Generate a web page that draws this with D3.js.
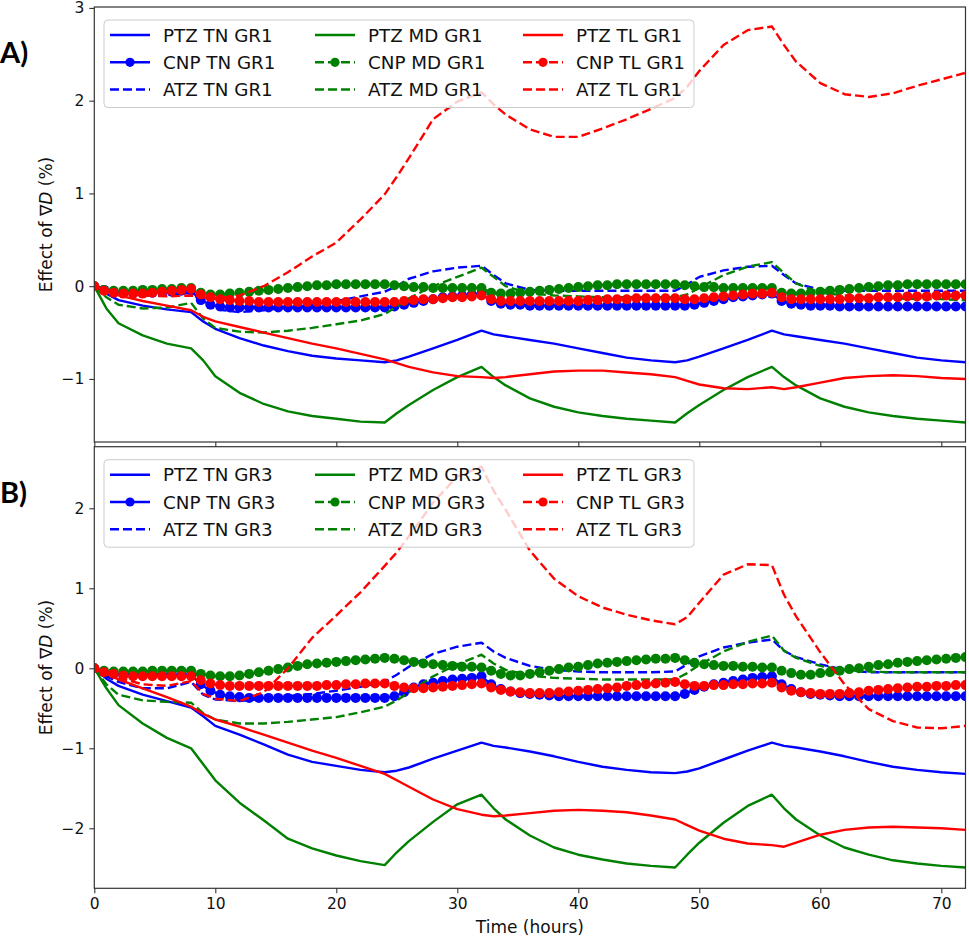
<!DOCTYPE html>
<html><head><meta charset="utf-8">
<script src="https://cdn.jsdelivr.net/npm/d3@7"></script>
<style>body{margin:0;background:#fff}svg{display:block}</style>
</head><body>
<svg id="chart" width="969" height="937"></svg>
<script>
// ---------- DATA ----------
const lineHours = [0,1,2,4,6,8, 9,10,12,14,16,18,20,22,24, 25,26,28,30,32, 33,34,36,38,40,42,44,46,48, 49,50,52,54,56, 57,58,60,62,64,66,68,70,72];
const markerHours = [0,0.8,1.6,2.4,3.2,4,4.8,5.6,6.4,7.2, 8,8.8,9.6,10.4,11.2,12,12.8,13.6,14.4,15.2, 16,16.8,17.6,18.4,19.2,20,20.8,21.6,22.4,23.2, 24,24.8,25.6,26.4,27.2,28,28.8,29.6,30.4,31.2, 32,32.8,33.6,34.4,35.2,36,36.8,37.6,38.4,39.2, 40,40.8,41.6,42.4,43.2,44,44.8,45.6,46.4,47.2, 48,48.8,49.6,50.4,51.2,52,52.8,53.6,54.4,55.2, 56,56.8,57.6,58.4,59.2,60,60.8,61.6,62.4,63.2, 64,64.8,65.6,66.4,67.2,68,68.8,69.6,70.4,71.2, 72];
const xTicks = [0,10,20,30,40,50,60,70];
const yTicksA = [-1,0,1,2,3];
const yTicksB = [-2,-1,0,1,2];

// Panel A (GR1)
const ptzTnGr1 = [0,-0.08,-0.15,-0.21,-0.25,-0.28, -0.38,-0.46,-0.56,-0.64,-0.7,-0.75,-0.78,-0.8,-0.82, -0.8,-0.76,-0.67,-0.58,-0.48, -0.52,-0.54,-0.58,-0.62,-0.67,-0.72,-0.77,-0.8,-0.82, -0.8,-0.76,-0.67,-0.58,-0.48, -0.52,-0.54,-0.58,-0.62,-0.67,-0.72,-0.77,-0.8,-0.82];
const ptzMdGr1 = [0,-0.24,-0.4,-0.53,-0.62,-0.67, -0.8,-0.97,-1.15,-1.27,-1.35,-1.4,-1.43,-1.46,-1.47, -1.37,-1.28,-1.12,-0.98,-0.87, -0.98,-1.07,-1.21,-1.3,-1.36,-1.4,-1.43,-1.45,-1.47, -1.37,-1.28,-1.12,-0.98,-0.87, -0.98,-1.07,-1.21,-1.3,-1.36,-1.4,-1.43,-1.45,-1.47];
const ptzTlGr1 = [0,-0.06,-0.1,-0.16,-0.21,-0.26, -0.33,-0.38,-0.44,-0.5,-0.56,-0.62,-0.67,-0.73,-0.79, -0.83,-0.87,-0.93,-0.97,-0.98, -0.99,-0.98,-0.95,-0.92,-0.91,-0.91,-0.93,-0.95,-0.98, -1.02,-1.06,-1.1,-1.11,-1.09, -1.11,-1.09,-1.04,-0.99,-0.97,-0.96,-0.97,-0.99,-1.0];
const atzTnGr1 = [0,-0.05,-0.08,-0.1,-0.1,-0.07, -0.18,-0.25,-0.28,-0.26,-0.23,-0.2,-0.16,-0.11,-0.06, 0.0,0.08,0.16,0.2,0.22, 0.12,0.03,-0.04,-0.05,-0.05,-0.05,-0.05,-0.05,-0.05, 0.02,0.1,0.17,0.21,0.22, 0.12,0.03,-0.04,-0.05,-0.05,-0.05,-0.05,-0.05,-0.05];
const atzMdGr1 = [0,-0.12,-0.2,-0.24,-0.23,-0.18, -0.35,-0.45,-0.49,-0.5,-0.48,-0.45,-0.41,-0.37,-0.3, -0.22,-0.13,0.0,0.1,0.2, 0.1,0.0,-0.08,-0.1,-0.11,-0.12,-0.12,-0.12,-0.12, -0.09,-0.02,0.12,0.21,0.26, 0.14,0.03,-0.07,-0.1,-0.12,-0.13,-0.14,-0.14,-0.15];
const atzTlGr1 = [0,-0.04,-0.07,-0.1,-0.11,-0.1, -0.12,-0.13,-0.1,0.0,0.15,0.32,0.47,0.72,0.99, 1.18,1.38,1.8,1.99,2.09, 1.96,1.85,1.69,1.61,1.61,1.7,1.8,1.91,2.03, 2.15,2.32,2.6,2.76,2.8, 2.6,2.42,2.19,2.07,2.04,2.08,2.16,2.23,2.3];
const cnpTnGr1 = [0,-0.04,-0.06,-0.07,-0.07,-0.07,-0.07,-0.06,-0.06,-0.05,
 -0.05,-0.15,-0.2,-0.22,-0.23,-0.23,-0.23,-0.23,-0.23,-0.23,
 -0.23,-0.23,-0.23,-0.23,-0.23,-0.23,-0.23,-0.23,-0.23,-0.23,
 -0.23,-0.22,-0.2,-0.18,-0.16,-0.14,-0.12,-0.11,-0.1,-0.09,
 -0.08,-0.16,-0.19,-0.2,-0.2,-0.21,-0.21,-0.21,-0.21,-0.21,
 -0.21,-0.21,-0.21,-0.21,-0.21,-0.21,-0.21,-0.21,-0.21,-0.21,
 -0.21,-0.21,-0.2,-0.18,-0.16,-0.14,-0.12,-0.11,-0.1,-0.09,
 -0.08,-0.16,-0.19,-0.2,-0.21,-0.21,-0.21,-0.22,-0.22,-0.22,
 -0.22,-0.22,-0.22,-0.22,-0.22,-0.22,-0.22,-0.22,-0.22,-0.22,
 -0.22];
const cnpMdGr1 = [0,-0.04,-0.05,-0.05,-0.05,-0.04,-0.04,-0.03,-0.03,-0.02,
 -0.02,-0.07,-0.09,-0.09,-0.08,-0.07,-0.06,-0.05,-0.04,-0.03,
 -0.02,-0.01,0,0.01,0.01,0.02,0.02,0.02,0.02,0.02,
 0.02,0.01,0,-0.01,-0.01,-0.02,-0.02,-0.02,-0.02,-0.02,
 -0.02,-0.07,-0.08,-0.08,-0.07,-0.06,-0.05,-0.04,-0.03,-0.02,
 -0.01,0,0.01,0.01,0.02,0.02,0.02,0.02,0.02,0.02,
 0.02,0.01,0,-0.01,-0.01,-0.02,-0.02,-0.02,-0.02,-0.02,
 -0.02,-0.07,-0.08,-0.08,-0.07,-0.06,-0.05,-0.04,-0.03,-0.02,
 -0.01,0,0.01,0.01,0.02,0.02,0.02,0.02,0.02,0.02,
 0.02];
const cnpTlGr1 = [0,-0.05,-0.07,-0.08,-0.08,-0.08,-0.07,-0.06,-0.05,-0.04,
 -0.03,-0.09,-0.12,-0.14,-0.15,-0.16,-0.16,-0.17,-0.17,-0.17,
 -0.17,-0.17,-0.17,-0.17,-0.17,-0.17,-0.17,-0.17,-0.17,-0.17,
 -0.17,-0.17,-0.16,-0.15,-0.14,-0.14,-0.13,-0.12,-0.12,-0.11,
 -0.1,-0.14,-0.16,-0.16,-0.16,-0.16,-0.16,-0.16,-0.16,-0.16,
 -0.16,-0.15,-0.15,-0.14,-0.14,-0.14,-0.13,-0.13,-0.13,-0.13,
 -0.13,-0.14,-0.14,-0.13,-0.12,-0.11,-0.1,-0.09,-0.08,-0.08,
 -0.07,-0.12,-0.14,-0.14,-0.14,-0.14,-0.14,-0.14,-0.13,-0.13,
 -0.13,-0.12,-0.12,-0.12,-0.11,-0.11,-0.11,-0.1,-0.1,-0.1,
 -0.1];

// Panel B (GR3)
const ptzTnGr3 = [0,-0.13,-0.22,-0.33,-0.41,-0.49, -0.6,-0.72,-0.83,-0.95,-1.08,-1.17,-1.22,-1.27,-1.3, -1.28,-1.24,-1.13,-1.03,-0.93, -0.97,-0.99,-1.04,-1.1,-1.17,-1.23,-1.27,-1.3,-1.31, -1.29,-1.25,-1.14,-1.03,-0.93, -0.97,-0.99,-1.04,-1.1,-1.17,-1.23,-1.27,-1.3,-1.32];
const ptzMdGr3 = [0,-0.25,-0.46,-0.69,-0.87,-1.0, -1.2,-1.4,-1.68,-1.9,-2.13,-2.25,-2.34,-2.41,-2.46, -2.3,-2.16,-1.92,-1.7,-1.58, -1.75,-1.89,-2.09,-2.24,-2.33,-2.39,-2.44,-2.47,-2.49, -2.33,-2.18,-1.93,-1.72,-1.58, -1.75,-1.89,-2.09,-2.24,-2.33,-2.4,-2.44,-2.47,-2.49];
const ptzTlGr3 = [0,-0.07,-0.14,-0.25,-0.36,-0.48, -0.57,-0.64,-0.73,-0.83,-0.93,-1.03,-1.12,-1.22,-1.32, -1.4,-1.48,-1.64,-1.76,-1.83, -1.85,-1.84,-1.81,-1.78,-1.77,-1.78,-1.8,-1.84,-1.89, -1.96,-2.03,-2.13,-2.19,-2.21, -2.23,-2.18,-2.08,-2.02,-1.99,-1.98,-1.99,-2.0,-2.02];
const atzTnGr3 = [0,-0.1,-0.17,-0.25,-0.25,-0.17, -0.33,-0.39,-0.41,-0.38,-0.35,-0.32,-0.28,-0.23,-0.17, -0.08,0.02,0.18,0.27,0.32, 0.21,0.13,0.03,-0.02,-0.04,-0.05,-0.05,-0.05,-0.04, 0.05,0.15,0.26,0.32,0.36, 0.22,0.14,0.05,-0.02,-0.05,-0.05,-0.05,-0.05,-0.05];
const atzMdGr3 = [0,-0.2,-0.33,-0.4,-0.42,-0.43, -0.56,-0.64,-0.69,-0.69,-0.67,-0.64,-0.61,-0.55,-0.48, -0.4,-0.3,-0.1,0.05,0.17, 0.06,-0.02,-0.09,-0.12,-0.13,-0.14,-0.14,-0.14,-0.14, -0.06,0.04,0.21,0.33,0.41, 0.22,0.13,0.03,-0.02,-0.04,-0.05,-0.05,-0.05,-0.05];
const atzTlGr3 = [0,-0.07,-0.12,-0.2,-0.22,-0.16, -0.32,-0.38,-0.41,-0.3,0.0,0.38,0.66,0.95,1.28, 1.45,1.65,2.07,2.4,2.52, 2.22,1.98,1.47,1.12,0.9,0.76,0.67,0.6,0.55, 0.64,0.82,1.17,1.3,1.29, 0.92,0.65,0.2,-0.2,-0.51,-0.66,-0.74,-0.75,-0.72];
const cnpTnGr3 = [0,-0.05,-0.07,-0.08,-0.08,-0.08,-0.08,-0.08,-0.08,-0.08,
 -0.08,-0.2,-0.28,-0.33,-0.35,-0.36,-0.37,-0.37,-0.37,-0.37,
 -0.37,-0.37,-0.37,-0.37,-0.37,-0.37,-0.37,-0.37,-0.37,-0.37,
 -0.37,-0.35,-0.3,-0.24,-0.2,-0.18,-0.16,-0.14,-0.13,-0.12,
 -0.1,-0.2,-0.26,-0.29,-0.31,-0.32,-0.33,-0.34,-0.35,-0.35,
 -0.35,-0.35,-0.35,-0.35,-0.35,-0.35,-0.35,-0.35,-0.35,-0.35,
 -0.35,-0.32,-0.27,-0.23,-0.2,-0.18,-0.16,-0.14,-0.12,-0.11,
 -0.1,-0.2,-0.26,-0.3,-0.32,-0.33,-0.34,-0.35,-0.35,-0.35,
 -0.35,-0.35,-0.35,-0.35,-0.35,-0.35,-0.35,-0.35,-0.35,-0.35,
 -0.35];
const cnpMdGr3 = [0,-0.03,-0.04,-0.04,-0.04,-0.04,-0.03,-0.03,-0.03,-0.03,
 -0.03,-0.07,-0.09,-0.1,-0.1,-0.09,-0.07,-0.05,-0.03,-0.01,
 0.01,0.03,0.05,0.06,0.07,0.08,0.09,0.1,0.11,0.12,
 0.13,0.12,0.1,0.08,0.06,0.05,0.04,0.03,0.02,0.02,
 0.01,-0.03,-0.07,-0.09,-0.09,-0.07,-0.05,-0.03,-0.01,0.01,
 0.02,0.04,0.06,0.07,0.08,0.09,0.1,0.11,0.12,0.12,
 0.13,0.1,0.07,0.05,0.04,0.03,0.03,0.02,0.02,0.01,
 0.01,-0.03,-0.06,-0.08,-0.08,-0.06,-0.05,-0.03,-0.01,0.0,
 0.02,0.04,0.05,0.07,0.08,0.09,0.1,0.11,0.12,0.13,
 0.14];
const cnpTlGr3 = [0,-0.05,-0.07,-0.09,-0.1,-0.1,-0.1,-0.1,-0.1,-0.1,
 -0.1,-0.15,-0.19,-0.21,-0.22,-0.22,-0.22,-0.22,-0.22,-0.22,
 -0.22,-0.22,-0.22,-0.22,-0.21,-0.21,-0.2,-0.2,-0.19,-0.19,
 -0.19,-0.22,-0.24,-0.25,-0.25,-0.24,-0.23,-0.22,-0.21,-0.2,
 -0.19,-0.24,-0.27,-0.29,-0.3,-0.31,-0.31,-0.31,-0.3,-0.29,
 -0.28,-0.27,-0.26,-0.25,-0.24,-0.22,-0.21,-0.2,-0.19,-0.18,
 -0.17,-0.2,-0.22,-0.22,-0.21,-0.21,-0.2,-0.2,-0.19,-0.19,
 -0.18,-0.24,-0.28,-0.3,-0.31,-0.32,-0.32,-0.32,-0.31,-0.3,
 -0.28,-0.27,-0.26,-0.25,-0.24,-0.23,-0.23,-0.22,-0.22,-0.21,
 -0.21];

// ---------- LAYOUT ----------
const svg = d3.select("#chart");
const L = 94.3, R = 965.5;
const x = d3.scaleLinear().domain([0, 72]).range([L, R]);
const FONT = "'DejaVu Sans', sans-serif";
const colors = {TN: "blue", MD: "green", TL: "red"};
const dashPat = "9,4";
const LW = 2.4;

function mkSeries(gr, d) {
  const out = [];
  ["TN","MD","TL"].forEach(g => {
    out.push({label: `PTZ ${g} ${gr}`, kind: "PTZ", g, xs: lineHours, ys: d["PTZ"+g]});
    out.push({label: `CNP ${g} ${gr}`, kind: "CNP", g, xs: markerHours, ys: d["CNP"+g]});
    out.push({label: `ATZ ${g} ${gr}`, kind: "ATZ", g, xs: lineHours, ys: d["ATZ"+g]});
  });
  return out;
}

const panels = [
  {id: "A", top: 7, bottom: 442, domain: [-1.68, 3.01], yTicks: yTicksA, tag: "A)", tagY: 63, showX: false,
   series: mkSeries("GR1", {PTZTN: ptzTnGr1, CNPTN: cnpTnGr1, ATZTN: atzTnGr1, PTZMD: ptzMdGr1, CNPMD: cnpMdGr1, ATZMD: atzMdGr1, PTZTL: ptzTlGr1, CNPTL: cnpTlGr1, ATZTL: atzTlGr1})},
  {id: "B", top: 446.7, bottom: 888.3, domain: [-2.75, 2.77], yTicks: yTicksB, tag: "B)", tagY: 503, showX: true,
   series: mkSeries("GR3", {PTZTN: ptzTnGr3, CNPTN: cnpTnGr3, ATZTN: atzTnGr3, PTZMD: ptzMdGr3, CNPMD: cnpMdGr3, ATZMD: atzMdGr3, PTZTL: ptzTlGr3, CNPTL: cnpTlGr3, ATZTL: atzTlGr3})}
];

const fmt = d => d < 0 ? "\u2212" + Math.abs(d) : String(d);
const defs = svg.append("defs");

panels.forEach(p => {
  const y = d3.scaleLinear().domain(p.domain).range([p.bottom, p.top]);
  const g = svg.append("g");
  defs.append("clipPath").attr("id", "clip" + p.id)
    .append("rect").attr("x", L).attr("y", p.top).attr("width", R - L).attr("height", p.bottom - p.top);

  const ya = g.append("g").attr("transform", `translate(${L},0)`)
    .call(d3.axisLeft(y).tickValues(p.yTicks).tickSize(5).tickPadding(5).tickFormat(fmt));
  const xa = g.append("g").attr("transform", `translate(0,${p.bottom})`)
    .call(d3.axisBottom(x).tickValues(xTicks).tickSize(5).tickPadding(5).tickFormat(p.showX ? d => String(d) : () => ""));
  [ya, xa].forEach(a => {
    a.select(".domain").remove();
    a.selectAll(".tick line").attr("stroke", "#333").attr("stroke-width", 1.1);
    a.selectAll("text").attr("font-family", FONT).attr("font-size", "15.5px").attr("fill", "#111");
  });

  const plot = g.append("g").attr("clip-path", `url(#clip${p.id})`);
  p.series.forEach(s => {
    const pts = s.xs.map((t, i) => [t, s.ys[i]]);
    const line = d3.line().x(d => x(d[0])).y(d => y(d[1]));
    const dashed = s.kind === "ATZ" || (s.kind === "CNP" && s.g !== "TN");
    plot.append("path").attr("d", line(pts)).attr("fill", "none")
      .attr("stroke", colors[s.g]).attr("stroke-width", LW)
      .attr("stroke-dasharray", dashed ? dashPat : null)
      .attr("stroke-linejoin", "round");
    if (s.kind === "CNP") {
      plot.append("g").selectAll("circle").data(pts).join("circle")
        .attr("cx", d => x(d[0])).attr("cy", d => y(d[1])).attr("r", 5)
        .attr("fill", colors[s.g]);
    }
  });

  g.append("rect").attr("x", L).attr("y", p.top).attr("width", R - L).attr("height", p.bottom - p.top)
    .attr("fill", "none").attr("stroke", "#333").attr("stroke-width", 1.2);

  const lg = g.append("g");
  lg.append("rect").attr("x", L + 9.7).attr("y", p.top + 13).attr("width", 590).attr("height", 87.5)
    .attr("rx", 4).attr("fill", "white").attr("fill-opacity", 0.8).attr("stroke", "#cccccc").attr("stroke-width", 1);
  const colX = [110, 315, 523];
  const rowDy = [28, 55.3, 82.5];
  p.series.forEach((s, i) => {
    const c = Math.floor(i / 3), r = i % 3;
    const cy = p.top + rowDy[r];
    const x0 = colX[c];
    const dashed = s.kind === "ATZ" || (s.kind === "CNP" && s.g !== "TN");
    lg.append("line").attr("x1", x0).attr("x2", x0 + 40).attr("y1", cy).attr("y2", cy)
      .attr("stroke", colors[s.g]).attr("stroke-width", LW).attr("stroke-dasharray", dashed ? dashPat : null);
    if (s.kind === "CNP") lg.append("circle").attr("cx", x0 + 20).attr("cy", cy).attr("r", 4.6).attr("fill", colors[s.g]);
    lg.append("text").attr("x", x0 + 53).attr("y", cy).attr("dy", "0.36em")
      .attr("font-family", FONT).attr("font-size", "18.3px").attr("fill", "#111").text(s.label);
  });

  const cyMid = (p.top + p.bottom) / 2;
  const yl = g.append("text").attr("transform", `translate(51.5,${cyMid}) rotate(-90)`)
    .attr("text-anchor", "middle").attr("font-family", FONT).attr("font-size", "17px").attr("fill", "#111");
  yl.append("tspan").text("Effect of \u2207");
  yl.append("tspan").attr("font-style", "italic").text("D");
  yl.append("tspan").text(" (%)");

  g.append("text").attr("x", 0).attr("y", p.tagY).attr("font-family", "Lato, 'DejaVu Sans', sans-serif").attr("font-weight", "bold")
    .attr("font-size", "29px").attr("fill", "#000").text(p.tag);
});

svg.append("text").attr("x", (L + R) / 2).attr("y", 932.5).attr("text-anchor", "middle")
  .attr("font-family", FONT).attr("font-size", "17px").attr("fill", "#111").text("Time (hours)");
</script>
</body></html>
